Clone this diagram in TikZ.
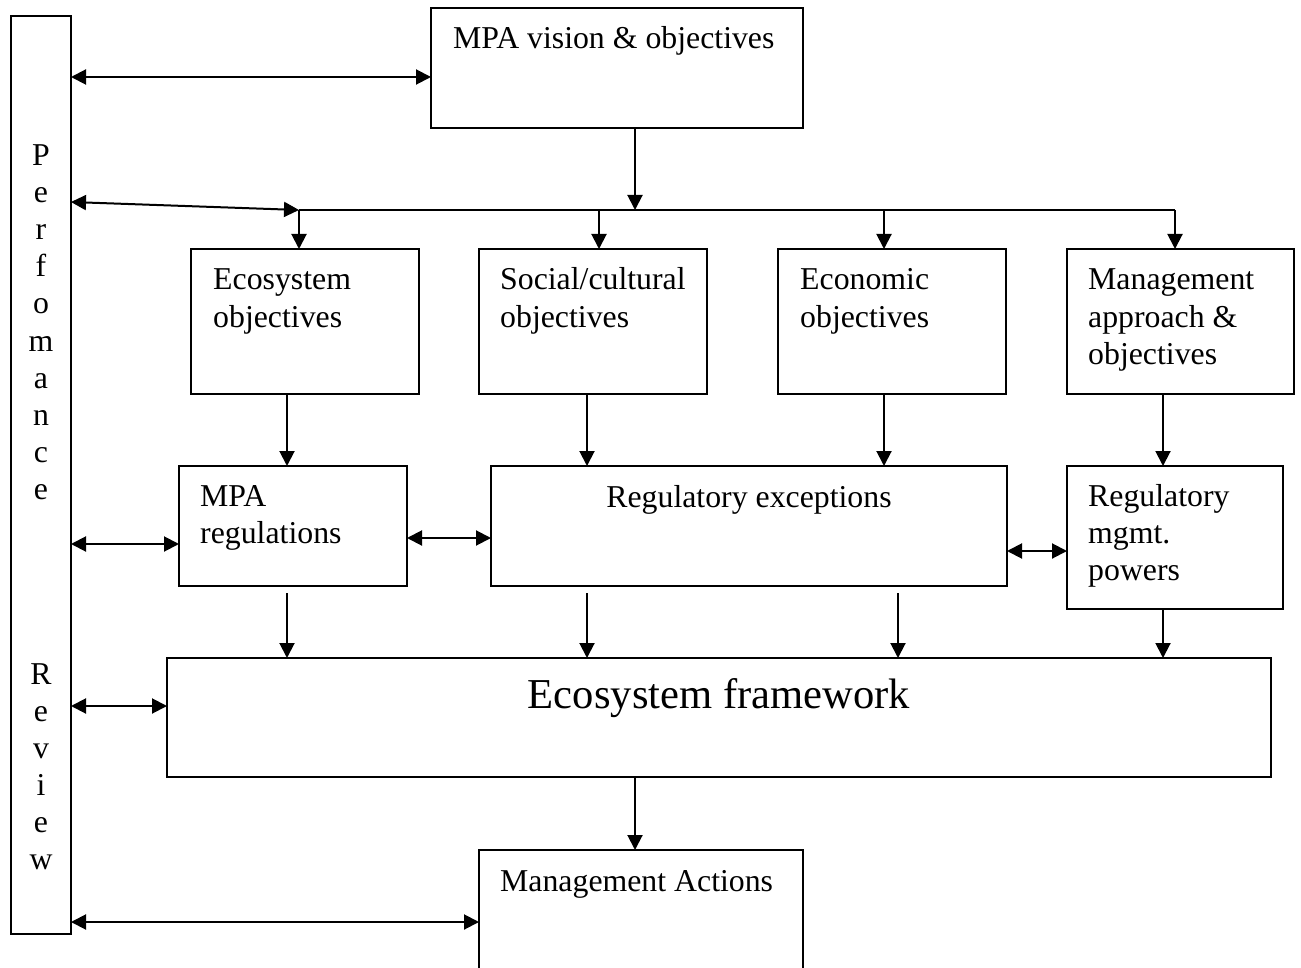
\documentclass[tikz,border=0pt]{standalone}
\usepackage{fontspec}
\setmainfont{Liberation Serif}
\usetikzlibrary{arrows.meta}
\begin{document}
\begin{tikzpicture}[x=1pt,y=-1pt,
  box/.style={draw=black,line width=2pt,inner sep=0pt,outer sep=0pt},
  txt/.style={anchor=base west,inner sep=0pt,font=\fontsize{31.8}{37}\selectfont},
  bigtxt/.style={anchor=base,inner sep=0pt,font=\fontsize{42.6}{49}\selectfont},
  letter/.style={anchor=base,inner sep=0pt,font=\fontsize{31.8}{37}\selectfont},
  tip/.tip={Triangle[length=15pt,width=15pt]},
  arr/.style={line width=2pt,-tip},
  darr/.style={line width=2pt,tip-tip}]
\useasboundingbox (0,0) rectangle (1301,968);
\fill[white] (0,0) rectangle (1301,968);

% column and row helpers
\coordinate (cv) at (635,0);
\coordinate (c1) at (299,0);
\coordinate (c2) at (599,0);
\coordinate (c3) at (884,0);
\coordinate (c4) at (1175,0);
\coordinate (d1) at (287,0);
\coordinate (d2) at (587,0);
\coordinate (d3) at (884,0);
\coordinate (d4) at (1163,0);
\coordinate (e3) at (898,0);
\coordinate (bus) at (299,210);
\coordinate (busend) at (1175,210);

% boxes
\node[box,minimum width=60,minimum height=918] (bar) at (41,475) {};
\node[box,minimum width=372,minimum height=120] (vision) at (617,68) {};
\node[box,minimum width=228,minimum height=145] (eco) at (305,321.5) {};
\node[box,minimum width=228,minimum height=145] (soc) at (593,321.5) {};
\node[box,minimum width=228,minimum height=145] (econ) at (892,321.5) {};
\node[box,minimum width=227,minimum height=145] (mgmt) at (1180.5,321.5) {};
\node[box,minimum width=228,minimum height=120] (mpareg) at (293,526) {};
\node[box,minimum width=516,minimum height=120] (regexc) at (749,526) {};
\node[box,minimum width=216,minimum height=143] (regpow) at (1175,537.5) {};
\node[box,minimum width=1104,minimum height=119] (frame) at (719,717.5) {};
\node[box,minimum width=324,minimum height=126] (actions) at (641,913) {};

% texts
\node[txt] (t-vision) at (453,49) {MPA vision \& objectives};
\node[txt] (t-eco1) at (213,290) {Ecosystem};
\node[txt] (t-eco2) at (213,327) {objectives};
\node[txt] (t-soc1) at (500,290) {Social/cultural};
\node[txt] (t-soc2) at (500,327) {objectives};
\node[txt] (t-econ1) at (800,290) {Economic};
\node[txt] (t-econ2) at (800,327) {objectives};
\node[txt] (t-mgmt1) at (1088,290) {Management};
\node[txt] (t-mgmt2) at (1088,327) {approach \&};
\node[txt] (t-mgmt3) at (1088,364) {objectives};
\node[txt] (t-reg1) at (200,506) {MPA};
\node[txt] (t-reg2) at (200,543) {regulations};
\node[letter] (t-exc) at (749,507) {Regulatory exceptions};
\node[txt] (t-pow1) at (1088,506) {Regulatory};
\node[txt] (t-pow2) at (1088,543) {mgmt.};
\node[txt] (t-pow3) at (1088,580) {powers};
\node[bigtxt] (t-frame) at (719,708) {Ecosystem framework};
\node[txt] (t-act) at (500,891) {Management Actions};

% vertical caption of the review bar
\foreach \ch/\yy in {P/166,e/203,r/240,f/277,o/314,m/351,a/388,n/425,c/462,e/499,
                     R/684,e/721,v/758,i/795,e/832,w/869}
  \node[letter] (bar-\yy) at (41,\yy) {\ch};

% connectors
\draw[darr] (bar.east |- 0,77) -- (vision.west |- 0,77);
\draw[arr] (vision.south -| cv) -- (bus -| cv);
\draw[darr] (bar.east |- 0,202) -- (bus);
\draw[line width=2pt] (bus) -- (busend);
\draw[arr] (bus -| c1) -- (eco.north -| c1);
\draw[arr] (bus -| c2) -- (soc.north -| c2);
\draw[arr] (bus -| c3) -- (econ.north -| c3);
\draw[arr] (busend) -- (mgmt.north -| c4);

\draw[arr] (eco.south -| d1) -- (mpareg.north -| d1);
\draw[arr] (soc.south -| d2) -- (regexc.north -| d2);
\draw[arr] (econ.south -| d3) -- (regexc.north -| d3);
\draw[arr] (mgmt.south -| d4) -- (regpow.north -| d4);

\draw[darr] (bar.east |- 0,544) -- (mpareg.west |- 0,544);
\draw[darr] (mpareg.east |- 0,538) -- (regexc.west |- 0,538);
\draw[darr] (regexc.east |- 0,551) -- (regpow.west |- 0,551);

\draw[arr,shorten <=7pt] (mpareg.south -| d1) -- (frame.north -| d1);
\draw[arr,shorten <=7pt] (regexc.south -| d2) -- (frame.north -| d2);
\draw[arr,shorten <=7pt] (regexc.south -| e3) -- (frame.north -| e3);
\draw[arr] (regpow.south -| d4) -- (frame.north -| d4);

\draw[darr] (bar.east |- 0,706) -- (frame.west |- 0,706);
\draw[arr] (frame.south -| cv) -- (actions.north -| cv);
\draw[darr] (bar.east |- 0,922) -- (actions.west |- 0,922);
\end{tikzpicture}
\end{document}
